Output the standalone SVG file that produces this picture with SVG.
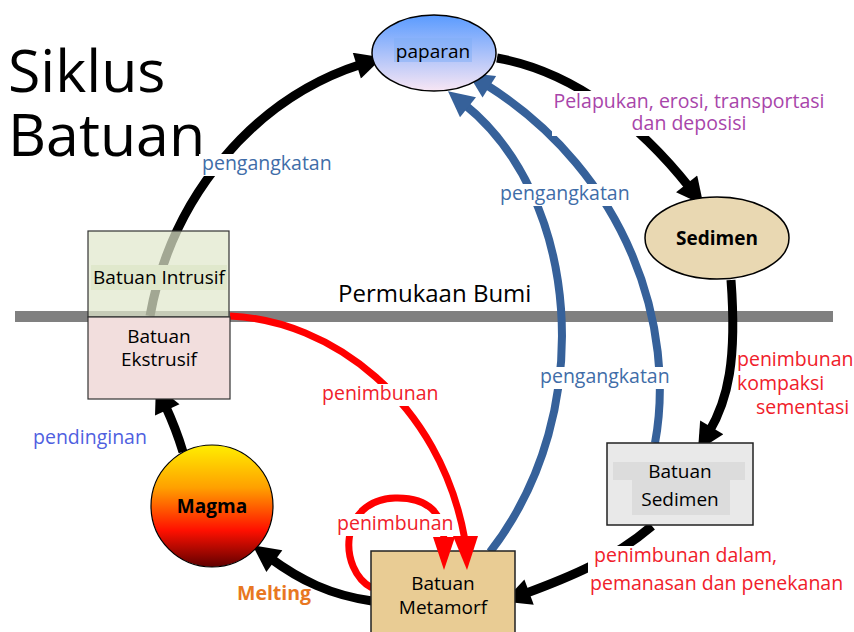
<svg xmlns="http://www.w3.org/2000/svg" width="854" height="632" viewBox="0 0 854 632">
<defs>
<linearGradient id="gPap" x1="0" y1="0" x2="0" y2="1"><stop offset="0" stop-color="#5A9BFF"/><stop offset="1" stop-color="#F8E6F4"/></linearGradient>
<linearGradient id="gMag" x1="0" y1="0" x2="0" y2="1"><stop offset="0" stop-color="#FFEE00"/><stop offset="0.35" stop-color="#FFA000"/><stop offset="0.7" stop-color="#FF1000"/><stop offset="1" stop-color="#600000"/></linearGradient>
<marker id="ab" viewBox="0 0 10 10" refX="2" refY="5" markerWidth="3.4" markerHeight="3" orient="auto" markerUnits="strokeWidth"><path d="M0,0 L10,5 L0,10 z" fill="#000"/></marker>
<marker id="au" viewBox="0 0 10 10" refX="2" refY="5" markerWidth="4" markerHeight="3.2" orient="auto" markerUnits="strokeWidth"><path d="M0,0 L10,5 L0,10 z" fill="#36619A"/></marker>
</defs>
<style>
text{font-family:"Open Sans","Noto Sans","DejaVu Sans",sans-serif}
.bk{fill:none;stroke:#000;stroke-width:9;marker-end:url(#ab)}
.rd{fill:none;stroke:#FF0000;stroke-width:7}
.bl{fill:none;stroke:#36619A;stroke-width:8;marker-end:url(#au)}
.nt{font-size:19px;fill:#000;text-anchor:middle}
.lb{font-size:19.5px}
.bg{fill:#fff}
</style>
<rect width="854" height="632" fill="#fff"/>
<g id="title"><text x="8" y="92" font-size="59" font-weight="500" fill="#000">Siklus</text><text x="8" y="156" font-size="59" font-weight="500" fill="#000">Batuan</text></g>
<rect x="15" y="311" width="818" height="11" fill="#808080"/>
<text x="338" y="302" font-size="24" fill="#000">Permukaan Bumi</text>
<g id="connectors">
<path class="bk" d="M150,316 C172,195 255,98 362,64"/>
<path class="bk" d="M497,58 C575,72 640,125 690,188"/>
<path class="bk" d="M731,280 C737,360 728,400 709,432"/>
<path class="bk" d="M652,526 C612,560 570,577 524,594"/>
<path class="bk" d="M372,601 C330,595 300,580 270,558"/>
<path class="bk" d="M183,452 C177,432 171,418 165,405"/>
<path class="rd" d="M230,316 C330,320 440,400 465,540"/>
<path class="rd" d="M372,588 C338,570 338,500 395,498 C430,497 443,515 444,540"/>
<path class="bl" d="M490,552 C600,410 578,195 464,104"/>
<path class="bl" d="M655,443 C676,330 630,175 485,84"/>
<rect class="bg" x="199" y="154" width="138" height="22"/>
<rect class="bg" x="552" y="91" width="276" height="45"/>
<rect class="bg" x="497" y="184" width="139" height="22"/>
<rect class="bg" x="537" y="367" width="139" height="22"/>
<rect class="bg" x="319" y="384" width="121" height="22"/>
<rect class="bg" x="334" y="514" width="121" height="22"/>
<rect class="bg" x="588" y="546" width="252" height="50"/>
<text class="lb" x="202" y="170" fill="#3F6DA8">pengangkatan</text>
<text class="lb" x="689" y="108" fill="#A845AA" text-anchor="middle">Pelapukan, erosi, transportasi</text>
<text class="lb" x="689" y="130" fill="#A845AA" text-anchor="middle">dan deposisi</text>
<text class="lb" x="500" y="200" fill="#3F6DA8">pengangkatan</text>
<text class="lb" x="540" y="383" fill="#3F6DA8">pengangkatan</text>
<text class="lb" x="737" y="366" fill="#F0202A">penimbunan</text>
<text class="lb" x="737" y="390" fill="#F0202A">kompaksi</text>
<text class="lb" x="756" y="414" fill="#F0202A">sementasi</text>
<text class="lb" x="322" y="400" fill="#F0202A">penimbunan</text>
<text class="lb" x="337" y="530" fill="#F0202A">penimbunan</text>
<text class="lb" x="594" y="562" fill="#F0202A">penimbunan dalam,</text>
<text class="lb" x="590" y="590" fill="#F0202A">pemanasan dan penekanan</text>
<text class="lb" x="33" y="444" fill="#4F5FDF">pendinginan</text>
<text class="lb" x="237" y="600" fill="#E87722" font-weight="700" font-size="19">Melting</text>
</g>
<g id="paparan"><ellipse cx="434" cy="53" rx="62" ry="38" fill="url(#gPap)" stroke="#000" stroke-width="1.5"/><rect x="394" y="38" width="78" height="24" fill="#7FAEF6" opacity="0.5"/><text class="nt" x="433" y="58" font-size="18.5">paparan</text></g>
<g id="sedimen"><ellipse cx="717" cy="238" rx="72" ry="41" fill="#E9D8B2" stroke="#000" stroke-width="1.5"/><text class="nt" x="717" y="245" font-weight="700">Sedimen</text></g>
<g id="intrusif"><rect x="88" y="231" width="141" height="86" fill="#E0E8CC" fill-opacity="0.72" stroke="#333" stroke-width="1.2"/><rect x="91" y="265" width="136" height="25" fill="#E0E8CC"/><text class="nt" x="159" y="284">Batuan Intrusif</text></g>
<g id="ekstrusif"><rect x="88" y="317" width="142" height="82" fill="#F2DEDD" stroke="#333" stroke-width="1.2"/><text class="nt" x="159" y="343">Batuan</text><text class="nt" x="159" y="366">Ekstrusif</text></g>
<g id="magma"><circle cx="212" cy="506" r="61" fill="url(#gMag)" stroke="#000" stroke-width="1.2"/><text class="nt" x="212" y="513" font-weight="700">Magma</text></g>
<g id="sedrock"><rect x="607" y="443" width="146" height="82" fill="#E9E9E9" stroke="#222" stroke-width="1.5"/><rect x="613" y="462" width="132" height="18" fill="#DCDCDC"/><rect x="632" y="480" width="98" height="35" fill="#DCDCDC"/><text class="nt" x="680" y="478">Batuan</text><text class="nt" x="680" y="506">Sedimen</text></g>
<g id="metamorf"><rect x="371" y="551" width="144" height="90" fill="#E9CC94" stroke="#222" stroke-width="1.5"/><text class="nt" x="443" y="590">Batuan</text><text class="nt" x="443" y="614">Metamorf</text></g>
<g id="redheads"><path d="M433,537 L455,537 L444,570 z" fill="#FF0000"/><path d="M453,536 L478,536 L467,570 z" fill="#FF0000"/></g>
</svg>
